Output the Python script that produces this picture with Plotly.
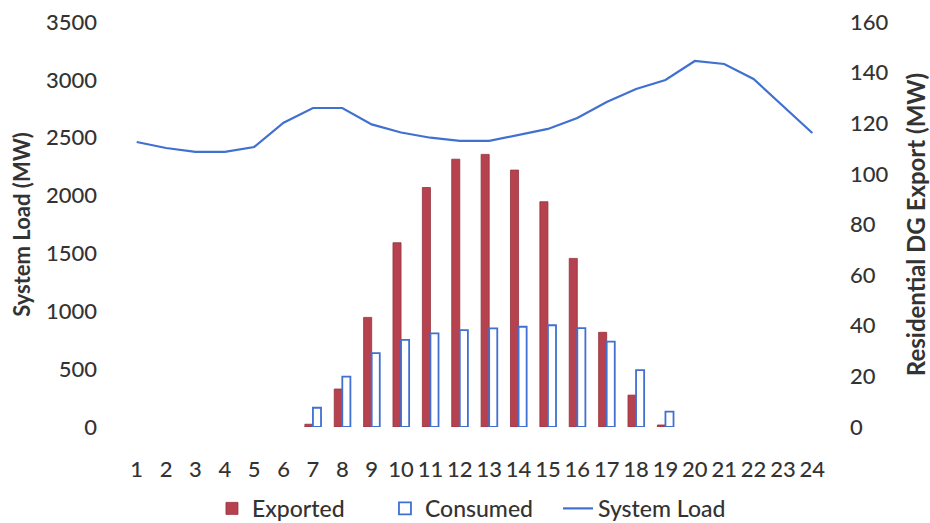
import plotly.graph_objects as go

# Hour of day
hours = list(range(1, 25))
hour_labels = [str(h) for h in hours]

# System load (MW), left axis
system_load = [2463, 2411, 2377, 2377, 2420, 2630, 2757, 2757, 2615, 2545,
               2500, 2472, 2472, 2524, 2576, 2671, 2809, 2921, 2999, 3163,
               3137, 3008, 2774, 2541]

# Residential DG (MW), right axis; None where there is no output
exported = [None, None, None, None, None, None, 1.1, 15.0, 43.3, 72.8, 94.6,
            105.8, 107.7, 101.5, 89.0, 66.6, 37.4, 12.6, 0.8,
            None, None, None, None, None]
consumed = [None, None, None, None, None, None, 7.6, 19.9, 29.2, 34.4, 37.0,
            38.3, 39.0, 39.6, 40.2, 39.1, 33.7, 22.5, 6.1,
            None, None, None, None, None]

left_ticks = [0, 500, 1000, 1500, 2000, 2500, 3000, 3500]
right_ticks = [0, 20, 40, 60, 80, 100, 120, 140, 160]

FONT = "Lato"
TEXT = "#333333"
RED = "#B5424E"
BLUE = "#4070D0"

tick_font = dict(family=FONT, size=22, color=TEXT, weight=500)

fig = go.Figure()

fig.add_trace(go.Bar(
    x=hour_labels, y=exported, name="Exported", yaxis="y2",
    marker=dict(color=RED, line=dict(color="#96323e", width=0.8)),
))
fig.add_trace(go.Bar(
    x=hour_labels, y=consumed, name="Consumed", yaxis="y2",
    marker=dict(color="white", line=dict(color=BLUE, width=1.8)),
))
fig.add_trace(go.Scatter(
    x=hour_labels, y=system_load, name="System Load", mode="lines",
    line=dict(color=BLUE, width=2.2), yaxis="y",
))

fig.update_layout(
    width=930, height=523,
    margin=dict(l=122, r=103, t=22, b=96, autoexpand=False),
    paper_bgcolor="white", plot_bgcolor="white",
    font=dict(family=FONT, size=22, color=TEXT),
    barmode="group", bargap=0.45, bargroupgap=0,
    showlegend=True,
    legend=dict(
        orientation="h", xref="paper", yref="paper",
        x=0.4957, y=-0.148, xanchor="center", yanchor="top",
        font=dict(family=FONT, size=23, color=TEXT, weight=500),
        itemwidth=30, traceorder="normal", entrywidth=128,
    ),
    xaxis=dict(
        type="category", showgrid=False, zeroline=False, showline=False,
        ticks="", ticklabelstandoff=27, tickfont=tick_font, automargin=False,
    ),
    yaxis=dict(
        range=[0, 3500], tickvals=left_ticks, showgrid=False, zeroline=False,
        showline=False, ticks="", ticklabelstandoff=24, tickfont=tick_font,
        automargin=False,
        title=dict(text="<b>System Load (MW)</b>", standoff=9,
                   font=dict(family=FONT, size=22, color=TEXT)),
    ),
    yaxis2=dict(
        range=[0, 160], tickvals=right_ticks, overlaying="y", side="right",
        showgrid=False, zeroline=False, showline=False, ticks="",
        ticklabelstandoff=22, tickfont=tick_font, automargin=False,
        title=dict(text="<b>Residential DG Export (MW)</b>", standoff=25,
                   font=dict(family=FONT, size=24, color=TEXT)),
    ),
)

fig.write_html("out.html")
